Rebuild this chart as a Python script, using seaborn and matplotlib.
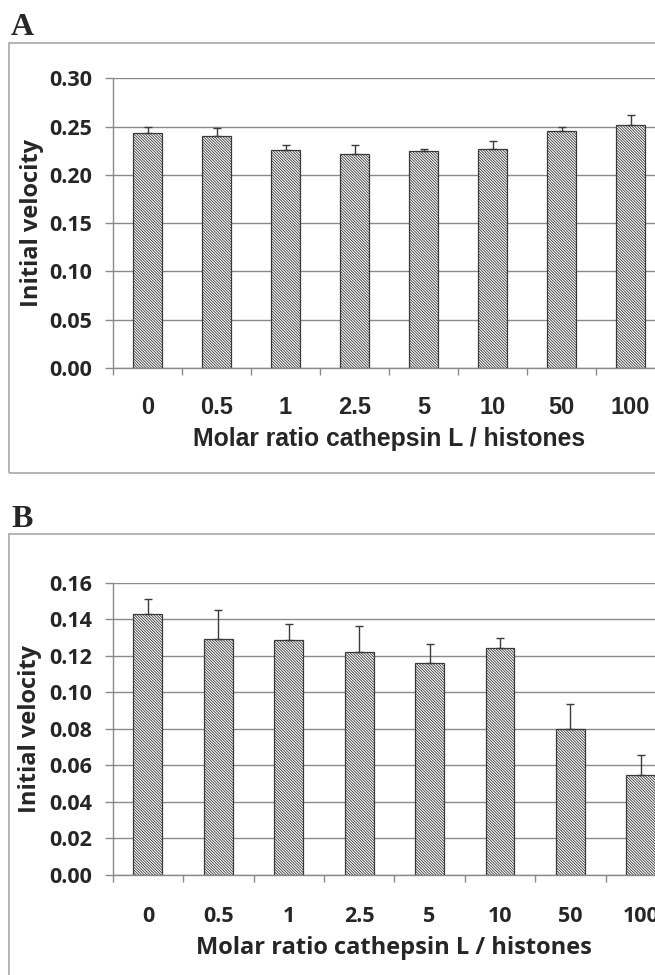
import numpy as np
import pandas as pd
import matplotlib
matplotlib.use("Agg")
import matplotlib.pyplot as plt
import seaborn as sns
from matplotlib.patches import Rectangle
from matplotlib.ticker import FixedLocator, FormatStrFormatter

# ---- data ----
ratios = ["0", "0.5", "1", "2.5", "5", "10", "50", "100"]
velocity_a = [0.243, 0.240, 0.226, 0.222, 0.225, 0.227, 0.245, 0.252]
error_a = [0.007, 0.009, 0.005, 0.009, 0.002, 0.008, 0.005, 0.010]
velocity_b = [0.143, 0.129, 0.1285, 0.122, 0.116, 0.1245, 0.080, 0.0545]
error_b = [0.008, 0.016, 0.009, 0.0145, 0.0105, 0.005, 0.0135, 0.011]
yticks_a = [0.00, 0.05, 0.10, 0.15, 0.20, 0.25, 0.30]
yticks_b = [0.00, 0.02, 0.04, 0.06, 0.08, 0.10, 0.12, 0.14, 0.16]
xlabel = "Molar ratio cathepsin L / histones"
ylabel = "Initial velocity"

sns.set_theme(style="white")
plt.rcParams["font.family"] = ["Open Sans", "DejaVu Sans"]
plt.rcParams["hatch.linewidth"] = 0.6

W, H = 655, 975
fig = plt.figure(figsize=(W / 100, H / 100), dpi=100)

GRID = "#8a8a8a"
EDGE = "#3a3a3a"
px = 72 / 100  # points per pixel


def fx(x):
    return x / W


def fy(y):
    return 1 - y / H


def panel(ax, vals, errs, yticks, xfont, xsize, xlsize, xpad, xlab_y):
    df = pd.DataFrame({"ratio": ratios, "v": vals})
    sns.barplot(data=df, x="ratio", y="v", order=ratios, ax=ax, color="white",
                saturation=1, width=0.41, edgecolor=EDGE, linewidth=0.9,
                hatch="\\" * 12, errorbar=None)
    ax.errorbar(np.arange(len(ratios)), vals,
                yerr=[np.zeros(len(errs)), errs], fmt="none",
                ecolor=EDGE, elinewidth=1.0, capsize=3.0, capthick=1.0)
    ax.set_xlim(-0.5, len(ratios) - 0.5)
    ax.set_ylim(yticks[0], yticks[-1])
    ax.set_yticks(yticks)
    ax.yaxis.set_major_formatter(FormatStrFormatter("%.2f"))
    ax.set_axisbelow(True)
    ax.grid(axis="y", color=GRID, linewidth=1.0)
    for s in ["top", "right"]:
        ax.spines[s].set_visible(False)
    for s in ["left", "bottom"]:
        ax.spines[s].set_color(GRID)
        ax.spines[s].set_linewidth(1.0)
    ax.tick_params(axis="y", which="major", length=8 * px, width=1.0,
                   color=GRID, direction="out", left=True, pad=9,
                   labelsize=15.5)
    for t in ax.get_yticklabels():
        t.set_fontweight("bold")
    ax.xaxis.set_minor_locator(FixedLocator(np.arange(-0.5, len(ratios), 1)))
    ax.tick_params(axis="x", which="minor", length=7 * px, width=1.0,
                   color=GRID, direction="out", bottom=True)
    ax.tick_params(axis="x", which="major", length=0, pad=xpad)
    ax.set_xticks(range(len(ratios)))
    ax.set_xticklabels(ratios, family=xfont, fontweight="bold", fontsize=xsize)
    ax.set_xlabel(xlabel, family=xfont, fontweight="bold", fontsize=xlsize,
                  va="baseline")
    ax.xaxis.set_label_coords(0.5, xlab_y)
    ax.set_ylabel(ylabel, fontweight="bold", fontsize=17, va="center")
    ax.yaxis.set_label_coords(-0.1476, 0.5)


# Panel A
axA = fig.add_axes([fx(113), fy(368), fx(665) - fx(113), (368 - 78.3) / H])
panel(axA, velocity_a, error_a, yticks_a, ["Liberation Sans", "DejaVu Sans"],
      17, 17.8, 20, -0.269)

# Panel B
axB = fig.add_axes([fx(112.7), fy(875), fx(676) - fx(112.7), (875 - 582.7) / H])
panel(axB, velocity_b, error_b, yticks_b, ["Open Sans", "DejaVu Sans"],
      15.5, 17, 22, -0.270)

# frames
FRAME = "#a8a8a8"
fig.add_artist(Rectangle((fx(9), fy(473)), 1.2, (473 - 43) / H,
                         transform=fig.transFigure, fill=False,
                         edgecolor=FRAME, linewidth=1.2))
fig.add_artist(Rectangle((fx(9), -0.2), 1.2, fy(534) + 0.2,
                         transform=fig.transFigure, fill=False,
                         edgecolor=FRAME, linewidth=1.2))

# panel letters
serif = ["Liberation Serif", "DejaVu Serif"]
fig.text(fx(11), fy(35), "A", family=serif, fontweight="bold", fontsize=23,
         va="baseline", ha="left")
fig.text(fx(11), fy(527), "B", family=serif, fontweight="bold", fontsize=23,
         va="baseline", ha="left")

fig.savefig("out.png", dpi=100)
